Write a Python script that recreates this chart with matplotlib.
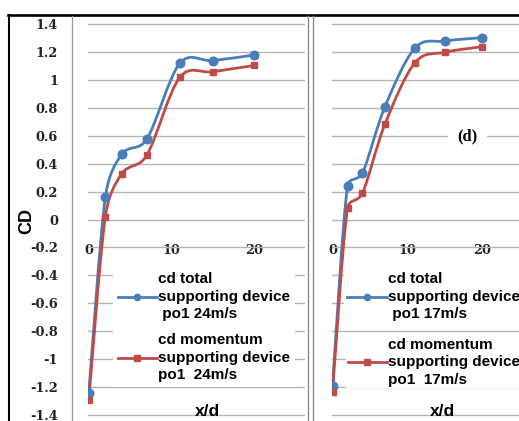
import numpy as np
import matplotlib
matplotlib.use('Agg')
import matplotlib.pyplot as plt
from matplotlib.path import Path
from matplotlib.patches import PathPatch
from matplotlib.lines import Line2D
from matplotlib.font_manager import FontProperties

# x/d stations
xd = [0, 2, 4, 7, 11, 15, 20]

# panel (c) - 24 m/s
cd_total_24 = [-1.24, 0.16, 0.47, 0.575, 1.12, 1.14, 1.18]
cd_mom_24 = [-1.29, 0.02, 0.33, 0.46, 1.02, 1.06, 1.105]

# panel (d) - 17 m/s
cd_total_17 = [-1.19, 0.24, 0.335, 0.81, 1.23, 1.28, 1.305]
cd_mom_17 = [-1.235, 0.08, 0.19, 0.685, 1.125, 1.20, 1.24]

yticks = [1.4, 1.2, 1.0, 0.8, 0.6, 0.4, 0.2, 0, -0.2, -0.4, -0.6, -0.8, -1.0, -1.2, -1.4]
ytick_labels = ['1.4', '1.2', '1', '0.8', '0.6', '0.4', '0.2', '0', '-0.2', '-0.4',
                '-0.6', '-0.8', '-1', '-1.2', '-1.4']
xticks = [0, 10, 20]
xtick_labels = ['0', '10', '20']

labels_24 = ['cd total\nsupporting device\n po1 24m/s', 'cd momentum\nsupporting device\npo1  24m/s']
labels_17 = ['cd total\nsupporting device\n po1 17m/s', 'cd momentum\nsupporting device\npo1  17m/s']

blue = '#4a7ebb'
red = '#be4b48'
grid_col = '#b4b4b4'

W, H = 519, 421


def fx(px):
    return px / W


def fy(py):
    return 1 - py / H


def smooth(ax, x, y):
    # excel-like smoothed line: bezier through the points, worked out in pixels
    pts = ax.transData.transform(np.column_stack([x, y]))
    n = len(pts)
    verts = [pts[0]]
    codes = [Path.MOVETO]
    for i in range(n - 1):
        p0 = pts[max(i - 1, 0)]
        p1 = pts[i]
        p2 = pts[i + 1]
        p3 = pts[min(i + 2, n - 1)]
        half = np.hypot(*(p2 - p1)) / 2
        a1 = (p2 - p0) / 6
        a2 = (p3 - p1) / 6
        if np.hypot(*a1) > half:
            a1 = a1 * half / np.hypot(*a1)
        if np.hypot(*a2) > half:
            a2 = a2 * half / np.hypot(*a2)
        verts += [p1 + a1, p2 - a2, p2]
        codes += [Path.CURVE4] * 3
    verts = ax.transData.inverted().transform(np.array(verts))
    return Path(verts, codes)


fig = plt.figure(figsize=(W / 100, H / 100), dpi=100)
fig.patch.set_facecolor('white')

axL = fig.add_axes([fx(88), 0, fx(305) - fx(88), (H - 20) / H])
axR = fig.add_axes([fx(331.7), 0, 1 - fx(331.7), (H - 20) / H])

tick_font = dict(fontfamily='DejaVu Serif', fontweight='bold', fontsize=9.3, color='#222222')

for ax in (axL, axR):
    ax.set_facecolor('none')
    ax.set_ylim(-1.444, 1.431)
    for s in ['top', 'right', 'left']:
        ax.spines[s].set_visible(False)
    ax.spines['bottom'].set_position(('data', 0))
    ax.spines['bottom'].set_visible(False)
    ax.set_yticks(yticks, labels=ytick_labels, **tick_font)
    ax.set_xticks(xticks, labels=xtick_labels, **tick_font)
    ax.tick_params(axis='y', length=0, pad=21.6)
    ax.tick_params(axis='x', length=0, pad=17.6)
    ax.yaxis.grid(True, color=grid_col, lw=1.0)
    ax.set_axisbelow(True)

axL.set_xlim(-0.097, 26.14)
axR.set_xlim(-0.107, 24.87)
axR.tick_params(axis='y', labelleft=False)

for ax, tot, mom in ((axL, cd_total_24, cd_mom_24), (axR, cd_total_17, cd_mom_17)):
    ax.add_patch(PathPatch(smooth(ax, xd, tot), fill=False, edgecolor=blue, lw=2.0,
                           capstyle='round', joinstyle='round', zorder=3))
    ax.add_patch(PathPatch(smooth(ax, xd, mom), fill=False, edgecolor=red, lw=2.0,
                           capstyle='round', joinstyle='round', zorder=3))
    ax.plot(xd, tot, 'o', color=blue, ms=6.2, zorder=4)
    ax.plot(xd, mom, 's', color=red, ms=5, zorder=4)

hb = Line2D([], [], color=blue, lw=2, marker='o', ms=4.5)
hr = Line2D([], [], color=red, lw=2, marker='s', ms=4.5)
leg_font = FontProperties(family='Liberation Sans', weight='bold', size=11)
leg_kw = dict(loc='upper left', bbox_transform=fig.transFigure, prop=leg_font,
              frameon=True, fancybox=False, edgecolor='none', facecolor='white',
              framealpha=1, borderaxespad=0, handlelength=2.6, handletextpad=0.05,
              numpoints=1)


def spaced(leg):
    for t in leg.get_texts():
        t.set_linespacing(1.32)
    return leg


spaced(axL.legend([hb, hr], labels_24, bbox_to_anchor=(fx(113), fy(267.5)),
                  borderpad=0.3, labelspacing=0.8, **leg_kw))

legR1 = spaced(axR.legend([hb], labels_17[:1], bbox_to_anchor=(fx(344), fy(269)),
                          borderpad=0.2, **leg_kw))
axR.add_artist(legR1)
spaced(axR.legend([hr], labels_17[1:], bbox_to_anchor=(fx(346), fy(336)),
                  borderpad=0.1, **leg_kw))

axR.text(18, 0.6, '(d)', family='Liberation Serif', weight='bold', size=12,
         ha='center', va='center', zorder=5,
         bbox=dict(facecolor='white', edgecolor='none', pad=6.5))

axL.text(14.4, -1.41, 'x/d', family='Liberation Sans', weight='bold', size=12.5,
         ha='center', va='baseline')
axR.text(14.7, -1.41, 'x/d', family='Liberation Sans', weight='bold', size=12.5,
         ha='center', va='baseline')

fig.text(fx(26.5), fy(220.5), 'CD', family='Liberation Sans', weight='bold', size=13,
         rotation=90, ha='center', va='center')

# frame lines of the original figure
fig.add_artist(Line2D([fx(8), 1], [fy(14.5)] * 2, color='black', lw=1.9, transform=fig.transFigure))
fig.add_artist(Line2D([fx(9)] * 2, [fy(14.5), 0], color='black', lw=1.5, transform=fig.transFigure))
fig.add_artist(Line2D([fx(72)] * 2, [fy(15.5), 0], color='#9a9a9a', lw=0.9, transform=fig.transFigure))
fig.add_artist(Line2D([fx(308.3)] * 2, [fy(15.5), 0], color='#8c8c8c', lw=1.0, transform=fig.transFigure))
fig.add_artist(Line2D([fx(312.7)] * 2, [fy(15.5), 0], color='#8c8c8c', lw=1.0, transform=fig.transFigure))

fig.savefig('out.png', dpi=100, facecolor='white')
